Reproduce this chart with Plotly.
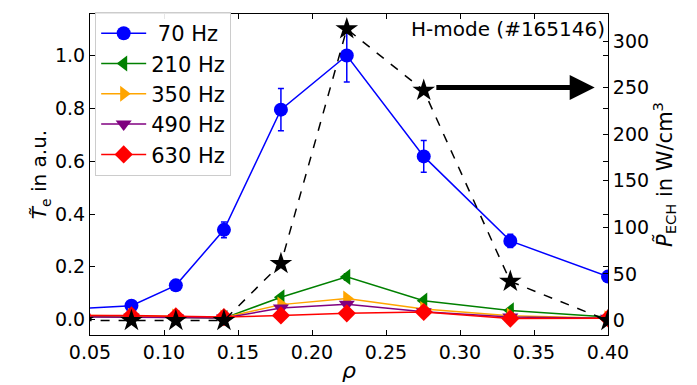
import plotly.graph_objects as go

rho = [0.045, 0.078, 0.108, 0.1405, 0.179, 0.2235, 0.2755, 0.334, 0.40]

te_70 = [0.043, 0.053, 0.13, 0.34, 0.795, 1.0, 0.618, 0.298, 0.163]
err_70 = [0.005, 0.01, 0.01, 0.03, 0.08, 0.1, 0.06, 0.025, 0.015]
te_210 = [0.012, 0.01, 0.006, 0.006, 0.085, 0.162, 0.072, 0.035, 0.01]
err_210 = [0.002, 0.003, 0.003, 0.003, 0.008, 0.012, 0.006, 0.004, 0.002]
te_350 = [0.016, 0.015, 0.012, 0.008, 0.057, 0.08, 0.04, 0.015, 0.005]
err_350 = [0.002, 0.003, 0.003, 0.003, 0.006, 0.008, 0.005, 0.003, 0.002]
te_490 = [0.01, 0.01, 0.008, 0.006, 0.044, 0.058, 0.03, 0.01, 0.005]
err_490 = [0.002, 0.003, 0.003, 0.003, 0.005, 0.006, 0.004, 0.003, 0.002]
te_630 = [0.016, 0.016, 0.013, 0.01, 0.016, 0.024, 0.029, 0.004, 0.005]
err_630 = [0.002, 0.003, 0.003, 0.003, 0.004, 0.004, 0.004, 0.003, 0.002]

p_ech = [0, 0, 0, 0, 61, 313, 247, 42, 0]

series = [
    (" 70 Hz", te_70, err_70, "blue", "circle"),
    ("210 Hz", te_210, err_210, "green", "triangle-left"),
    ("350 Hz", te_350, err_350, "orange", "triangle-right"),
    ("490 Hz", te_490, err_490, "purple", "triangle-down"),
    ("630 Hz", te_630, err_630, "red", "diamond"),
]

FONT = "DejaVu Sans"
fig = go.Figure()

for name, vals, errs, col, sym in series:
    fig.add_trace(go.Scatter(
        x=rho, y=vals, name=name, mode="lines+markers",
        line=dict(color=col, width=1.5),
        marker=dict(symbol=sym, size=14, color=col),
        error_y=dict(type="data", array=errs, color=col, thickness=1.5, width=3),
    ))

fig.add_trace(go.Scatter(
    x=rho, y=p_ech, yaxis="y2", mode="lines+markers",
    line=dict(color="black", dash="dash", width=1.5),
    marker=dict(symbol="star", size=17, color="black"),
    showlegend=False,
))

fig.add_annotation(
    x=0.391, y=250, ax=0.283, ay=250, xref="x", yref="y2", axref="x", ayref="y2",
    showarrow=True, arrowhead=2, arrowsize=1.0, arrowwidth=5, arrowcolor="black", text="",
)
fig.add_annotation(
    x=0.998, y=0.998, xref="paper", yref="paper", xanchor="right", yanchor="top",
    text="H-mode (#165146)", showarrow=False, font=dict(size=20, color="black", family=FONT),
)

axis_common = dict(
    showline=True, linecolor="black", linewidth=1, ticks="inside", ticklen=5,
    tickcolor="black", showgrid=False, zeroline=False,
    tickfont=dict(size=19, color="black", family=FONT),
)

fig.update_layout(
    width=697, height=385,
    margin=dict(l=82, r=97, t=5, b=58),
    plot_bgcolor="white", paper_bgcolor="white",
    font=dict(family=FONT, size=19, color="black"),
    xaxis=dict(range=[0.05, 0.40], tickvals=[0.05, 0.10, 0.15, 0.20, 0.25, 0.30, 0.35, 0.40],
               ticktext=["0.05", "0.10", "0.15", "0.20", "0.25", "0.30", "0.35", "0.40"],
               mirror="ticks",
               title=dict(text="<i>ρ</i>", font=dict(size=22), standoff=0), **axis_common),
    yaxis=dict(range=[-0.058, 1.157], tickvals=[0, 0.2, 0.4, 0.6, 0.8, 1.0],
               ticktext=["0.0", "0.2", "0.4", "0.6", "0.8", "1.0"], mirror="ticks",
               title=dict(text="<i>T̃</i><sub>e</sub> in a.u.", font=dict(size=20), standoff=2),
               **axis_common),
    yaxis2=dict(range=[-15.5, 329], overlaying="y", side="right",
                tickvals=[0, 50, 100, 150, 200, 250, 300],
                title=dict(text="<i>P̃</i><sub>ECH</sub> in W/cm<sup>3</sup>", font=dict(size=21), standoff=6),
                **axis_common),
    legend=dict(x=0.01, y=1.003, xanchor="left", yanchor="top",
                bgcolor="rgba(255,255,255,0.9)", bordercolor="#cccccc", borderwidth=1,
                font=dict(size=21, family=FONT), itemwidth=45, tracegroupgap=0),
)

fig.write_html("out.html")
